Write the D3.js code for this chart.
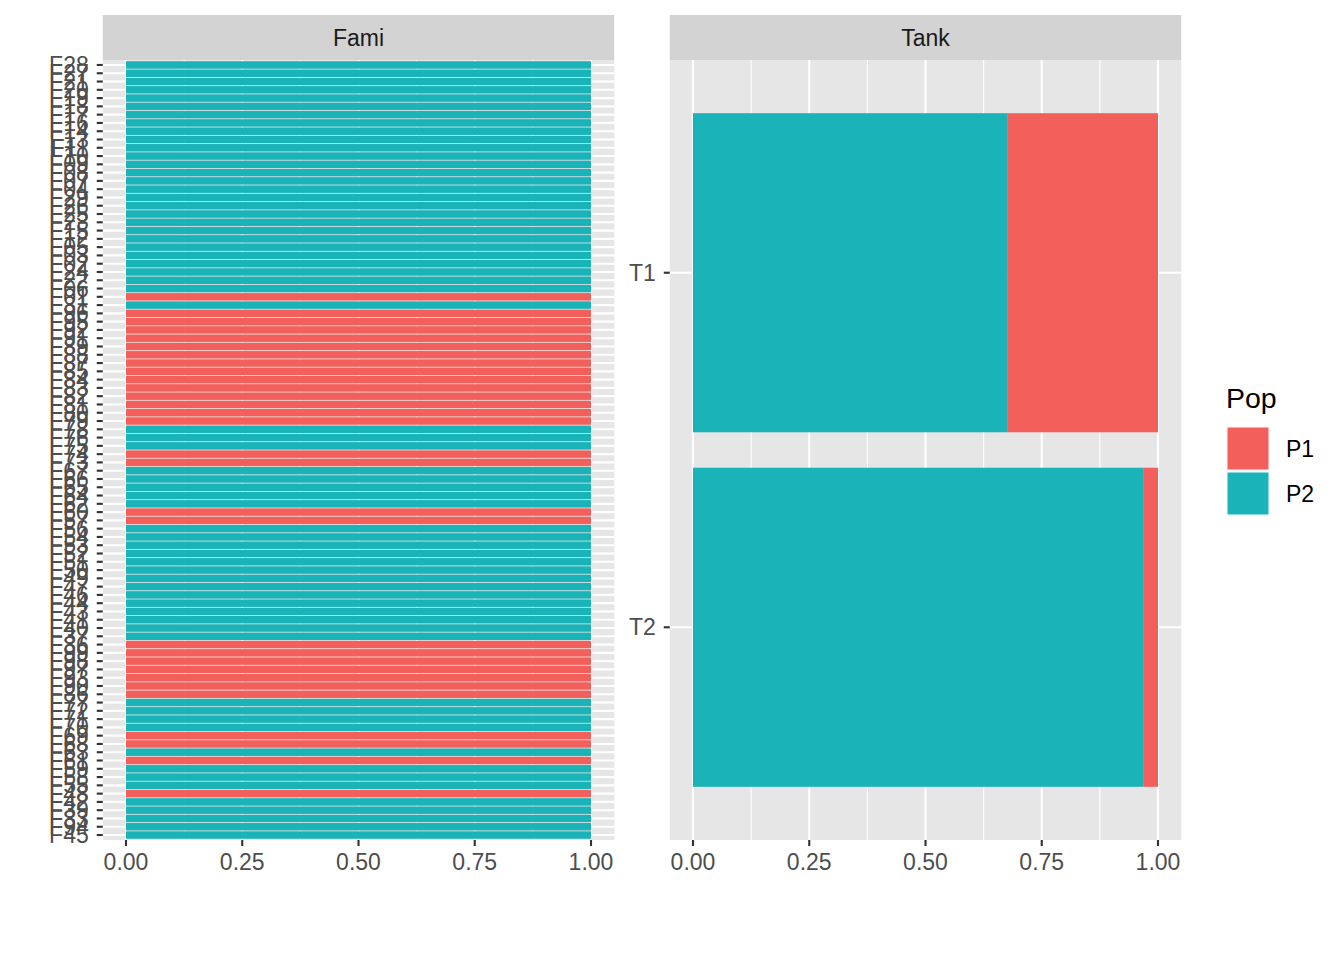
<!DOCTYPE html>
<html>
<head>
<meta charset="utf-8">
<script src="https://cdn.jsdelivr.net/npm/d3@7"></script>
<style>
  body { margin: 0; background: #fff; }
  text { font-family: "Liberation Sans", Arial, sans-serif; }
</style>
</head>
<body>
<div id="viz"></div>
<script>
// families, listed top to bottom as they appear in the Fami panel
const families = [
  "F28", "F27", "F21", "F20", "F19", "F18", "F17", "F16", "F14", "F13",
  "F11", "F10", "F09", "F08", "F07", "F04", "F29", "F26", "F25", "F23",
  "F15", "F12", "F05", "F03", "F02", "F24", "F22", "F06", "F01", "F31",
  "F96", "F95", "F92", "F91", "F89", "F88", "F87", "F85", "F84", "F83",
  "F82", "F81", "F80", "F79", "F78", "F76", "F75", "F74", "F73", "F67",
  "F66", "F65", "F64", "F62", "F60", "F57", "F56", "F54", "F53", "F52",
  "F51", "F50", "F49", "F47", "F46", "F44", "F43", "F41", "F40", "F37",
  "F36", "F99", "F98", "F97", "F93", "F90", "F86", "F77", "F72", "F71",
  "F70", "F69", "F68", "F63", "F61", "F59", "F58", "F55", "F48", "F42",
  "F39", "F33", "F94", "F45"
];
// population of each family (same order)
const familyPop = [
  "P2", "P2", "P2", "P2", "P2", "P2", "P2", "P2", "P2", "P2",
  "P2", "P2", "P2", "P2", "P2", "P2", "P2", "P2", "P2", "P2",
  "P2", "P2", "P2", "P2", "P2", "P2", "P2", "P2", "P1", "P2",
  "P1", "P1", "P1", "P1", "P1", "P1", "P1", "P1", "P1", "P1",
  "P1", "P1", "P1", "P1", "P2", "P2", "P2", "P1", "P1", "P2",
  "P2", "P2", "P2", "P2", "P1", "P1", "P2", "P2", "P2", "P2",
  "P2", "P2", "P2", "P2", "P2", "P2", "P2", "P2", "P2", "P2",
  "P1", "P1", "P1", "P1", "P1", "P1", "P1", "P2", "P2", "P2",
  "P2", "P1", "P1", "P2", "P1", "P2", "P2", "P2", "P1", "P2",
  "P2", "P2", "P2", "P2"
];

const tanks = ["T1", "T2"];
const tankP1 = [0.323, 0.032];
const tankP2 = [0.677, 0.968];

const pops = ["P1", "P2"];
const popColors = { P1: "#F3605B", P2: "#19B3B8" };
const xTicks = [0, 0.25, 0.5, 0.75, 1];
const xMinor = [0.125, 0.375, 0.625, 0.875];

const W = 1344, H = 960;
const panelTop = 60, panelBottom = 840, stripTop = 15;
const panels = [
  { title: "Fami", x0: 102.75, x1: 614.25 },
  { title: "Tank", x0: 669.75, x1: 1181.25 }
];
const panelBg = "#E6E6E6", stripBg = "#D3D3D3", textCol = "#4D4D4D", tickCol = "#333333";
const fs = 23;

const svg = d3.select("#viz").append("svg")
  .attr("width", W).attr("height", H);
svg.append("rect").attr("width", W).attr("height", H).attr("fill", "#fff");

function drawPanel(p, cats, rows) {
  const x = d3.scaleLinear().domain([-0.05, 1.05]).range([p.x0, p.x1]);
  const y = d3.scaleBand().domain(cats).range([panelTop, panelBottom])
    .paddingInner(0.1).paddingOuter(0.15);

  const g = svg.append("g");
  g.append("rect")
    .attr("x", p.x0).attr("y", panelTop)
    .attr("width", p.x1 - p.x0).attr("height", panelBottom - panelTop)
    .attr("fill", panelBg);

  // minor grid
  g.selectAll(".minor").data(xMinor).enter().append("line")
    .attr("x1", d => x(d)).attr("x2", d => x(d))
    .attr("y1", panelTop).attr("y2", panelBottom)
    .attr("stroke", "#fff").attr("stroke-width", 1.07);
  // major grid
  g.selectAll(".majx").data(xTicks).enter().append("line")
    .attr("x1", d => x(d)).attr("x2", d => x(d))
    .attr("y1", panelTop).attr("y2", panelBottom)
    .attr("stroke", "#fff").attr("stroke-width", 2.13);
  g.selectAll(".majy").data(cats).enter().append("line")
    .attr("x1", p.x0).attr("x2", p.x1)
    .attr("y1", d => y(d) + y.bandwidth() / 2).attr("y2", d => y(d) + y.bandwidth() / 2)
    .attr("stroke", "#fff").attr("stroke-width", 2.13);

  // stacked bars, P2 at the left, P1 stacked on the right
  const stack = d3.stack().keys(["P2", "P1"]);
  const series = stack(rows);
  series.forEach(s => {
    g.selectAll(".bar-" + s.key).data(s).enter().append("rect")
      .attr("x", d => x(d[0]))
      .attr("width", d => Math.max(0, x(d[1]) - x(d[0])))
      .attr("y", d => y(d.data.cat))
      .attr("height", y.bandwidth())
      .attr("fill", popColors[s.key]);
  });

  // strip
  svg.append("rect")
    .attr("x", p.x0).attr("y", stripTop)
    .attr("width", p.x1 - p.x0).attr("height", panelTop - stripTop)
    .attr("fill", stripBg);
  svg.append("text")
    .attr("x", (p.x0 + p.x1) / 2).attr("y", (stripTop + panelTop) / 2)
    .attr("dy", "0.35em").attr("text-anchor", "middle")
    .attr("font-size", fs).attr("fill", "#1A1A1A")
    .text(p.title);

  // x axis
  const xa = svg.append("g");
  xTicks.forEach(t => {
    xa.append("line")
      .attr("x1", x(t)).attr("x2", x(t))
      .attr("y1", panelBottom).attr("y2", panelBottom + 6)
      .attr("stroke", tickCol).attr("stroke-width", 2.13);
    xa.append("text")
      .attr("x", x(t)).attr("y", 862).attr("dy", "0.35em")
      .attr("text-anchor", "middle").attr("font-size", fs)
      .attr("fill", textCol)
      .text(d3.format(".2f")(t));
  });

  // y axis
  const ya = svg.append("g");
  cats.forEach(c => {
    const cy = y(c) + y.bandwidth() / 2;
    ya.append("line")
      .attr("x1", p.x0 - 6).attr("x2", p.x0)
      .attr("y1", cy).attr("y2", cy)
      .attr("stroke", tickCol).attr("stroke-width", 2.13);
    ya.append("text")
      .attr("x", p.x0 - 14).attr("y", cy).attr("dy", "0.35em")
      .attr("text-anchor", "end").attr("font-size", fs)
      .attr("fill", textCol)
      .text(c);
  });
}

const famRows = families.map((f, i) => ({
  cat: f,
  P1: familyPop[i] === "P1" ? 1 : 0,
  P2: familyPop[i] === "P2" ? 1 : 0
}));
const tankRows = tanks.map((t, i) => ({ cat: t, P1: tankP1[i], P2: tankP2[i] }));

drawPanel(panels[0], families, famRows);
drawPanel(panels[1], tanks, tankRows);

// legend
const lg = svg.append("g").attr("transform", "translate(1226,0)");
lg.append("text").attr("x", 0).attr("y", 408)
  .attr("font-size", 28.5).attr("fill", "#000").text("Pop");
pops.forEach((p, i) => {
  const ky = 426 + i * 45;
  lg.append("rect").attr("x", 0).attr("y", ky)
    .attr("width", 44).attr("height", 45).attr("fill", "#F2F2F2");
  lg.append("rect").attr("x", 1).attr("y", ky + 1)
    .attr("width", 42).attr("height", 43).attr("fill", popColors[p])
    .attr("stroke", "#fff").attr("stroke-width", 1);
  lg.append("text").attr("x", 60).attr("y", ky + 22.5).attr("dy", "0.35em")
    .attr("font-size", fs).attr("fill", "#000").text(p);
});
</script>
</body>
</html>
